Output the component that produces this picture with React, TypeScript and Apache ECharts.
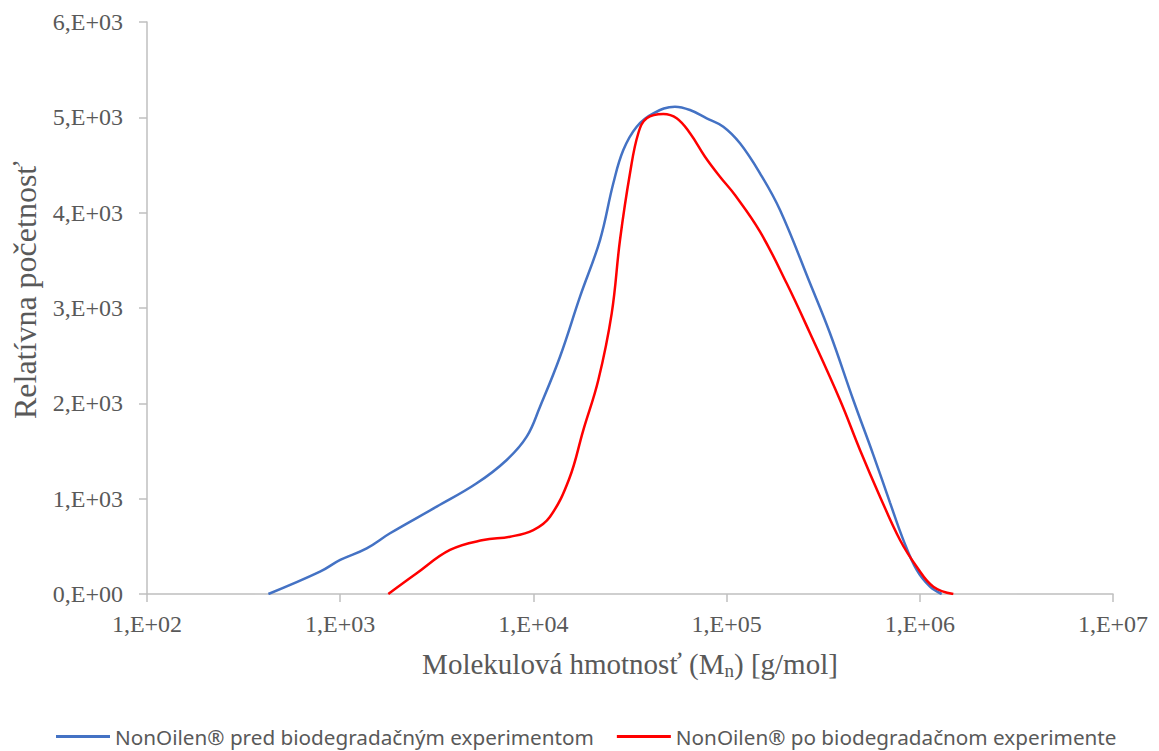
import React, { useEffect, useRef } from "react";
import * as echarts from "echarts";

const blueM = [425, 786, 1000, 1371, 1811, 3158, 5087, 7276, 9232, 10820, 13730, 17430, 22120, 25920, 29200, 34250, 41750, 54060, 64660, 78890, 96160, 117300, 148900, 189000, 270300, 342900, 452700, 574600, 701000, 821400, 963600, 1129000, 1298000];
const blueV = [0, 234, 357, 479, 637, 916, 1161, 1406, 1650, 1965, 2489, 3119, 3713, 4308, 4657, 4902, 5042, 5112, 5077, 4990, 4902, 4728, 4413, 4028, 3259, 2735, 2035, 1460, 959, 568, 252, 77, 0];

const redM = [1774, 2489, 3701, 5504, 7568, 9988, 12190, 15310, 18130, 21680, 25430, 28070, 31620, 34910, 38590, 47040, 55160, 64660, 77300, 92420, 110500, 148900, 204600, 270300, 386300, 490300, 622300, 789800, 963600, 1175000, 1491000];
const redV = [0, 217, 462, 566, 601, 671, 811, 1206, 1720, 2245, 2944, 3713, 4413, 4833, 4990, 5035, 4990, 4833, 4587, 4377, 4185, 3801, 3259, 2735, 2035, 1511, 1021, 566, 286, 77, 0];

const seriesNames = [
  "NonOilen® pred biodegradačným experimentom",
  "NonOilen® po biodegradačnom experimente",
];
const colors = ["#4472C4", "#FF0000"];

export default function App() {
  const ref = useRef<HTMLDivElement>(null);
  useEffect(() => {
    document.body.style.margin = "0";
    const chart = echarts.init(ref.current!, null, { renderer: "svg" });
    const serif = "'Liberation Serif', 'Times New Roman', serif";
    const axisColor = "#BFBFBF";
    const textColor = "#595959";
    chart.setOption({
      animation: false,
      backgroundColor: "#ffffff",
      grid: { left: 147, right: 46, top: 22, bottom: 157, containLabel: false },
      legend: {
        top: 726,
        left: 56,
        padding: 0,
        icon: "rect",
        itemWidth: 54,
        itemHeight: 3,
        itemGap: 23,
        textStyle: { fontFamily: "'Noto Sans', sans-serif", fontSize: 20.7, color: textColor },
        data: seriesNames,
      },
      xAxis: {
        type: "log",
        logBase: 10,
        min: 100,
        max: 10000000,
        name: "Molekulová hmotnosť (M{sub|n}) [g/mol]",
        nameLocation: "middle",
        nameGap: 54,
        nameTextStyle: {
          fontFamily: serif,
          fontSize: 29,
          color: textColor,
          lineHeight: 32,
          rich: {
            sub: { fontFamily: serif, fontSize: 19, color: textColor, verticalAlign: "bottom", lineHeight: 32, padding: [12, 0, 0, 0] },
          },
        },
        axisLine: { show: true, lineStyle: { color: axisColor, width: 1.5 } },
        axisTick: { show: true, length: 8, lineStyle: { color: axisColor, width: 1.5 } },
        minorTick: { show: false },
        splitLine: { show: false },
        axisLabel: {
          margin: 18,
          fontFamily: serif,
          fontSize: 24,
          color: textColor,
          formatter: (v: number) => "1,E+" + String(Math.round(Math.log10(v))).padStart(2, "0"),
        },
      },
      yAxis: {
        type: "value",
        min: 0,
        max: 6000,
        interval: 1000,
        name: "Relatívna početnosť",
        nameLocation: "middle",
        nameGap: 106,
        nameTextStyle: { fontFamily: serif, fontSize: 32, color: textColor, padding: [0, 0, 0, 36] },
        axisLine: { show: true, lineStyle: { color: axisColor, width: 1.5 } },
        axisTick: { show: true, length: 8, lineStyle: { color: axisColor, width: 1.5 } },
        splitLine: { show: false },
        axisLabel: {
          margin: 24,
          fontFamily: serif,
          fontSize: 24,
          color: textColor,
          formatter: (v: number) => (v === 0 ? "0,E+00" : `${v / 1000},E+03`),
        },
      },
      series: [
        {
          name: seriesNames[0],
          type: "line",
          data: blueM.map((m, i) => [m, blueV[i]]),
          smooth: 0.4,
          symbol: "none",
          lineStyle: { color: colors[0], width: 2.5 },
          itemStyle: { color: colors[0] },
        },
        {
          name: seriesNames[1],
          type: "line",
          data: redM.map((m, i) => [m, redV[i]]),
          smooth: 0.4,
          symbol: "none",
          lineStyle: { color: colors[1], width: 2.5 },
          itemStyle: { color: colors[1] },
        },
      ],
    });
    return () => chart.dispose();
  }, []);
  return <div ref={ref} style={{ width: 1159, height: 751 }} />;
}
